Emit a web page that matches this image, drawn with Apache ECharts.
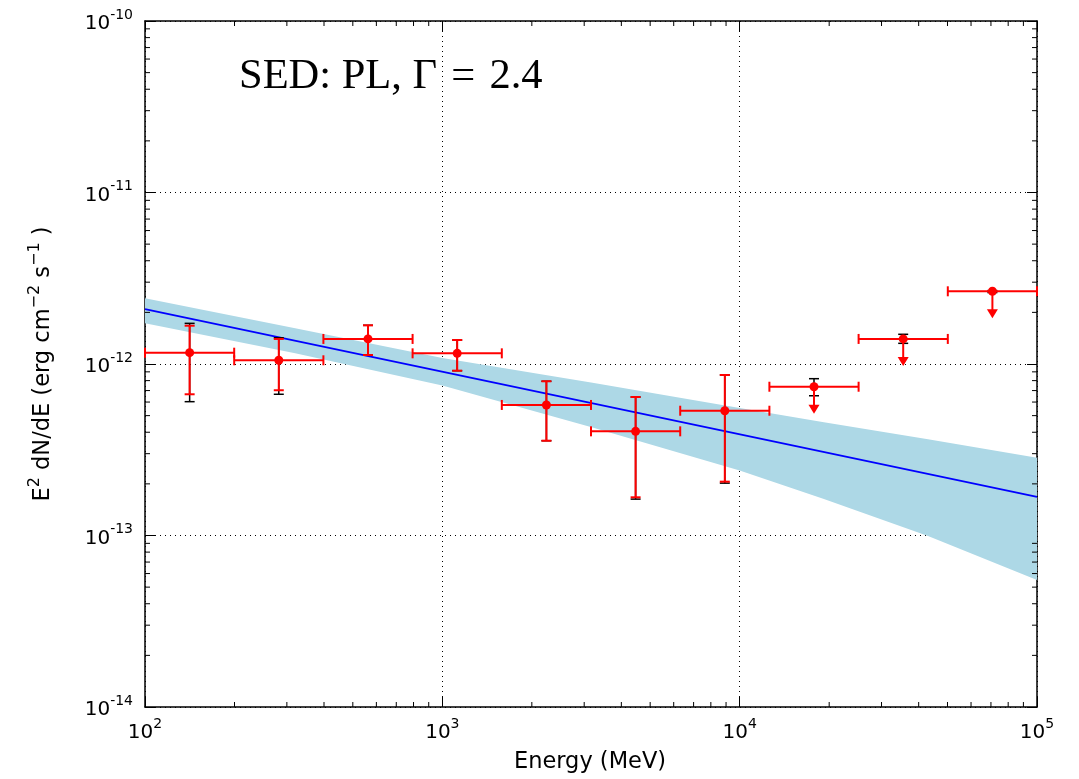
<!DOCTYPE html>
<html><head><meta charset="utf-8">
<script src="https://cdn.jsdelivr.net/npm/echarts@6/dist/echarts.min.js"></script>
<style>html,body{margin:0;padding:0;background:#fff}#c{width:1079px;height:779px}</style>
</head><body><div id="c"></div>
<script>
// ---- data ----
const energy = [141.3, 281.8, 562.3, 1122, 2239, 4467, 8913, 17783, 35481, 70795];
const binLo  = [100, 199.5, 398.1, 794.3, 1585, 3162, 6310, 12589, 25119, 50119];
const binHi  = [199.5, 398.1, 794.3, 1585, 3162, 6310, 12589, 25119, 50119, 100000];
const flux   = [1.164e-12, 1.051e-12, 1.40e-12, 1.154e-12, 5.77e-13, 4.05e-13, 5.34e-13, 7.37e-13, 1.40e-12, 2.654e-12];
const fluxLo = [6.66e-13, 7.03e-13, 1.128e-12, 9.14e-13, 3.57e-13, 1.67e-13, 2.06e-13, null, null, null];
const fluxHi = [1.672e-12, 1.40e-12, 1.681e-12, 1.38e-12, 7.93e-13, 6.42e-13, 8.63e-13, null, null, null];
const sysLo  = [6.03e-13, 6.66e-13, 1.128e-12, 9.14e-13, 3.57e-13, 1.63e-13, 2.02e-13, 6.53e-13, 1.32e-12, 2.61e-12];
const sysHi  = [1.726e-12, 1.423e-12, 1.681e-12, 1.38e-12, 7.93e-13, 6.42e-13, 8.63e-13, 8.21e-13, 1.49e-12, 2.68e-12];
const upperLimit = [false, false, false, false, false, false, false, true, true, true];
const modelE    = [100, 100000];
const modelFlux = [2.09e-12, 1.68e-13];
const bandE     = [100, 320, 1000, 3200, 10000, 19200, 43000, 100000];
const bandUpper = [2.415e-12, 1.615e-12, 1.084e-12, 7.78e-13, 5.54e-13, 4.58e-13, 3.64e-13, 2.84e-13];
const bandLower = [1.727e-12, 1.154e-12, 7.49e-13, 4.27e-13, 2.39e-13, 1.633e-13, 9.93e-14, 5.5e-14];
const xDecades = [2, 3, 4, 5];
const yDecades = [-14, -13, -12, -11, -10];
const minorMult = [2, 3, 4, 5, 6, 7, 8, 9];
const titleText = 'SED: PL, Γ\u2004=\u20042.4';

const xMinor = [], yMinor = [];
xDecades.slice(0, -1).forEach(d => minorMult.forEach(m => xMinor.push(m * Math.pow(10, d))));
yDecades.slice(0, -1).forEach(d => minorMult.forEach(m => yMinor.push(m * Math.pow(10, d))));

const RED = '#ff0000';
const tickRich = {
  b: {fontFamily: 'DejaVu Sans', fontSize: 20, color: '#000', lineHeight: 26, verticalAlign: 'bottom'},
  s: {fontFamily: 'DejaVu Sans', fontSize: 14, color: '#000', lineHeight: 16, verticalAlign: 'top'}
};
const fmt = v => '{b|10}{s|' + Math.round(Math.log10(v)) + '}';
const axisLineStyle = {color: '#000', width: 1.5};
const tickStyle = {inside: true, length: 10, lineStyle: {color: '#000', width: 1}};
const gridLine = {show: true, lineStyle: {color: '#000', width: 1, type: [1, 4]}};

function seg(x1, y1, x2, y2, color, w) {
  return {type: 'line', shape: {x1, y1, x2, y2}, style: {stroke: color, lineWidth: w}};
}

const chart = echarts.init(document.getElementById('c'));
chart.setOption({
  animation: false,
  backgroundColor: '#fff',
  grid: {left: 145, top: 21, right: 42, bottom: 72, containLabel: false},
  xAxis: [
    {type: 'log', logBase: 10, min: 100, max: 100000, position: 'bottom',
     axisLine: {onZero: false, lineStyle: axisLineStyle}, axisTick: tickStyle,
     axisLabel: {formatter: fmt, rich: tickRich, margin: 10}, splitLine: gridLine},
    {type: 'log', logBase: 10, min: 100, max: 100000, position: 'top',
     axisLine: {onZero: false, lineStyle: axisLineStyle}, axisTick: tickStyle,
     axisLabel: {show: false}, splitLine: {show: false}}
  ],
  yAxis: [
    {type: 'log', logBase: 10, min: 1e-14, max: 1e-10, position: 'left',
     axisLine: {onZero: false, lineStyle: axisLineStyle}, axisTick: tickStyle,
     axisLabel: {formatter: fmt, rich: tickRich, margin: 12}, splitLine: gridLine},
    {type: 'log', logBase: 10, min: 1e-14, max: 1e-10, position: 'right',
     axisLine: {onZero: false, lineStyle: axisLineStyle}, axisTick: tickStyle,
     axisLabel: {show: false}, splitLine: {show: false}}
  ],
  graphic: [
    {type: 'text', x: 239, y: 77, style: {text: titleText, fontFamily: 'Liberation Serif', fontSize: 42.5, fill: '#000', verticalAlign: 'middle', align: 'left'}},
    {type: 'text', x: 590, y: 762, style: {text: 'Energy (MeV)', fontFamily: 'DejaVu Sans', fontSize: 22.5, fill: '#000', align: 'center', verticalAlign: 'middle'}},
    {type: 'text', x: 41, y: 364, rotation: Math.PI / 2,
     style: {text: '{n|E}{p|2}{n| dN/dE (erg cm}{p|−2}{n| s}{p|−1}{n| )}', align: 'center', verticalAlign: 'middle',
       rich: {n: {fontFamily: 'DejaVu Sans', fontSize: 22.5, fill: '#000', lineHeight: 28, verticalAlign: 'bottom'},
              p: {fontFamily: 'DejaVu Sans', fontSize: 16, fill: '#000', lineHeight: 17, verticalAlign: 'top'}}}}
  ],
  series: [
    {type: 'custom', name: 'band', coordinateSystem: 'cartesian2d', xAxisIndex: 0, yAxisIndex: 0, silent: true, z: 1,
     data: [[bandE[0], bandUpper[0]]],
     renderItem: (params, api) => {
       const pts = [];
       for (let i = 0; i < bandE.length; i++) pts.push(api.coord([bandE[i], bandUpper[i]]));
       for (let i = bandE.length - 1; i >= 0; i--) pts.push(api.coord([bandE[i], bandLower[i]]));
       return {type: 'polygon', shape: {points: pts}, style: {fill: '#add8e6'}};
     }},
    {type: 'line', name: 'model', xAxisIndex: 0, yAxisIndex: 0, z: 2, symbol: 'none',
     data: modelE.map((e, i) => [e, modelFlux[i]]), lineStyle: {color: '#0000ff', width: 1.6}},
    {type: 'custom', name: 'points', coordinateSystem: 'cartesian2d', xAxisIndex: 0, yAxisIndex: 0, z: 3, clip: false,
     data: energy.map((e, i) => [e, flux[i]]),
     renderItem: (params, api) => {
       const i = params.dataIndex;
       const p = api.coord([energy[i], flux[i]]);
       const ch = [];
       const st = api.coord([energy[i], sysHi[i]]), sb = api.coord([energy[i], sysLo[i]]);
       ch.push(seg(p[0], st[1], p[0], sb[1], '#000', 1.5));
       ch.push(seg(p[0] - 5, st[1], p[0] + 5, st[1], '#000', 1.5));
       ch.push(seg(p[0] - 5, sb[1], p[0] + 5, sb[1], '#000', 1.5));
       const xl = api.coord([binLo[i], flux[i]]), xr = api.coord([binHi[i], flux[i]]);
       ch.push(seg(xl[0], p[1], xr[0], p[1], RED, 2));
       ch.push(seg(xl[0], p[1] - 5, xl[0], p[1] + 5, RED, 2));
       ch.push(seg(xr[0], p[1] - 5, xr[0], p[1] + 5, RED, 2));
       if (!upperLimit[i]) {
         const t = api.coord([energy[i], fluxHi[i]]), b = api.coord([energy[i], fluxLo[i]]);
         ch.push(seg(p[0], t[1], p[0], b[1], RED, 2));
         ch.push(seg(p[0] - 5, t[1], p[0] + 5, t[1], RED, 2));
         ch.push(seg(p[0] - 5, b[1], p[0] + 5, b[1], RED, 2));
       } else {
         ch.push(seg(p[0], p[1], p[0], p[1] + 20, RED, 2));
         ch.push({type: 'polygon', shape: {points: [[p[0] - 5.5, p[1] + 18], [p[0] + 5.5, p[1] + 18], [p[0], p[1] + 27]]}, style: {fill: RED}});
       }
       ch.push({type: 'circle', shape: {cx: p[0], cy: p[1], r: 4.5}, style: {fill: RED}});
       return {type: 'group', children: ch};
     }},
    {type: 'custom', name: 'minorTicks', coordinateSystem: 'cartesian2d', xAxisIndex: 0, yAxisIndex: 0, z: 4, silent: true, clip: false,
     data: [[100, 1e-14]],
     renderItem: (params, api) => {
       const cs = params.coordSys;
       const top = cs.y, bot = cs.y + cs.height, left = cs.x, right = cs.x + cs.width;
       const ch = [];
       xMinor.forEach(v => {
         const x = api.coord([v, 1e-12])[0];
         ch.push(seg(x, bot, x, bot - 5, '#000', 1));
         ch.push(seg(x, top, x, top + 5, '#000', 1));
       });
       yMinor.forEach(v => {
         const y = api.coord([1000, v])[1];
         ch.push(seg(left, y, left + 5, y, '#000', 1));
         ch.push(seg(right, y, right - 5, y, '#000', 1));
       });
       return {type: 'group', children: ch};
     }}
  ]
});
</script></body></html>
